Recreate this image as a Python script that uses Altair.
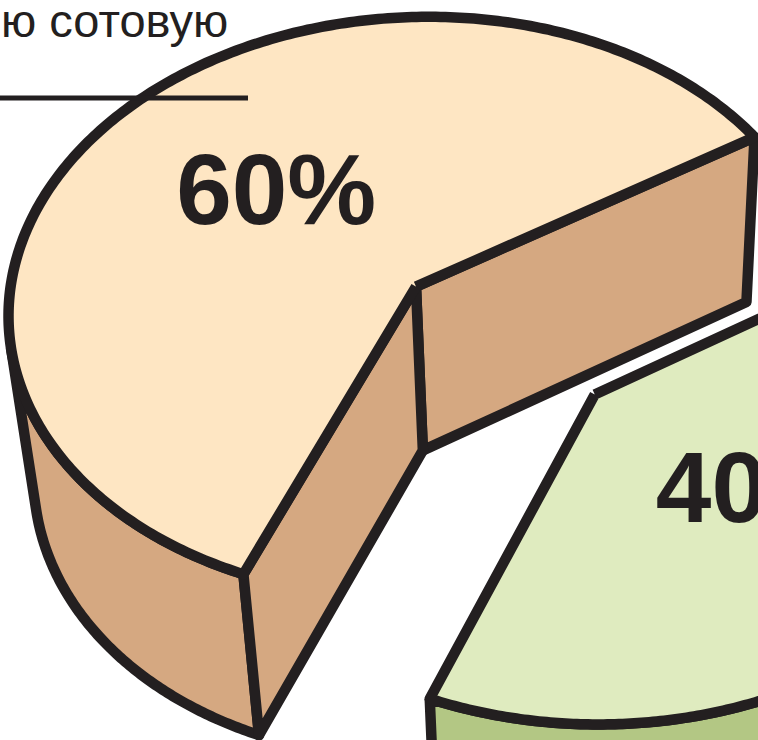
import numpy as np
import pandas as pd
import altair as alt

shares = [60, 40]
labels = ["60%", "40%"]
caption = "ю сотовую"
top_colors = ["#fee6c3", "#dfebbf"]
side_colors = ["#d5a881", "#b3c784"]
ink = "#231f20"
W, H = 758, 740

# camera / solid settings (elevation, distance, focal, origin x/y, roll, start angle, height, explode)
camera = [0.8303, 9.8049, 3815.98, 422.85, 450.38, 0.0418, 0.5056, 0.5962, 0.5682]

frac = shares[0] / sum(shares)


def project(p, P):
    phi, d, f, px, py, rho = p[:6]
    cam = d * np.array([0.0, -np.cos(phi), np.sin(phi)])
    fwd = -cam / np.linalg.norm(cam)
    right = np.array([1.0, 0.0, 0.0])
    up = np.cross(right, fwd)
    v = np.atleast_2d(np.asarray(P, float)) - cam
    zc = v @ fwd
    xc = v @ right
    yc = v @ up
    u1 = f * xc / zc
    u2 = f * yc / zc
    return px + u1 * np.cos(rho) - u2 * np.sin(rho), py - (u1 * np.sin(rho) + u2 * np.cos(rho))


def rim(c, th, z):
    return np.stack([c[0] + np.cos(th), c[1] + np.sin(th), np.full_like(th, z)], 1)


def build(p):
    phi, d, f, px, py, rho, alpha, h, s = p
    thF = alpha + 2 * np.pi * frac
    gam = alpha - np.pi * (1 - frac)
    e = np.array([s * np.cos(gam), s * np.sin(gam)])
    Q = np.array([0.0, -d * np.cos(phi)])
    faces = []

    def add(name, pts3):
        x, y = project(p, pts3)
        x = np.append(x, x[0])
        y = np.append(y, y[0])
        faces.append(pd.DataFrame({"face": name, "i": np.arange(len(x)), "x": x, "y": y}))

    def sil(c):
        w = Q - c
        b = np.arctan2(w[1], w[0])
        a = np.arccos(1 / np.hypot(*w))
        return b - a, b + a

    # larger slice
    left_sil, _ = sil(np.zeros(2))
    while left_sil < alpha:
        left_sil += 2 * np.pi
    th = np.linspace(left_sil, thF, 120)
    add("p_wall", np.vstack([rim([0, 0], th, h), rim([0, 0], th[::-1], 0.0)]))
    add("p_right", [[0, 0, h], [np.cos(alpha), np.sin(alpha), h], [np.cos(alpha), np.sin(alpha), 0], [0, 0, 0]])
    add("p_front", [[0, 0, h], [np.cos(thF), np.sin(thF), h], [np.cos(thF), np.sin(thF), 0], [0, 0, 0]])
    th = np.linspace(alpha, thF, 300)
    add("p_top", np.vstack([[[0, 0, h]], rim([0, 0], th, h)]))
    # exploded smaller slice
    gl, gr = sil(e)
    g0 = thF - 2 * np.pi
    th = np.linspace(max(g0, gl), min(alpha, gr), 120)
    add("g_wall", np.vstack([rim(e, th, h), rim(e, th[::-1], 0.0)]))
    th = np.linspace(g0, alpha, 300)
    add("g_top", np.vstack([[[e[0], e[1], h]], rim(e, th, h)]))
    lx, ly = project(p, [[0.55 * np.cos(alpha + np.pi * frac), 0.55 * np.sin(alpha + np.pi * frac), h],
                         [e[0] + 0.55 * np.cos(gam), e[1] + 0.55 * np.sin(gam), h]])
    return pd.concat(faces, ignore_index=True), lx, ly


shapes, lx, ly = build(camera)

xs = alt.X("x:Q", scale=alt.Scale(domain=[0, W], nice=False, zero=False), axis=None)
ys = alt.Y("y:Q", scale=alt.Scale(domain=[0, H], nice=False, zero=False, reverse=True), axis=None)

fills = {"p_wall": side_colors[0], "p_right": side_colors[0], "p_front": side_colors[0], "p_top": top_colors[0],
         "g_wall": side_colors[1], "g_top": top_colors[1]}
base = alt.Chart(shapes)
layers = []
for name in ["p_wall", "p_right", "p_front", "p_top", "g_wall", "g_top"]:
    layers.append(
        base.transform_filter(alt.datum.face == name)
        .mark_line(fill=fills[name], stroke=ink, strokeWidth=10.5, strokeJoin="round", clip=True)
        .encode(x=xs, y=ys, order=alt.Order("i:Q"))
    )

lab = pd.DataFrame({"label": labels, "x": lx, "y": ly})
label_shift = [(24, 6), (-22, -13)]
for k in range(len(labels)):
    layers.append(
        alt.Chart(lab.iloc[[k]]).mark_text(font="Liberation Sans", fontWeight="bold", fontSize=100, color=ink,
                                           align="center", baseline="middle", clip=True,
                                           dx=label_shift[k][0], dy=label_shift[k][1])
        .encode(x=xs, y=ys, text="label:N")
    )
layers.append(alt.Chart(pd.DataFrame({"t": [caption]})).mark_text(
    font="Liberation Sans", fontSize=47, color=ink, align="left", baseline="alphabetic")
    .encode(x=alt.value(1), y=alt.value(37), text="t:N"))
layers.append(alt.Chart(pd.DataFrame({"a": [0]})).mark_rule(stroke=ink, strokeWidth=5)
              .encode(x=alt.value(0), x2=alt.value(248), y=alt.value(98)))

chart = alt.layer(*layers).properties(width=W, height=H, autosize="none", padding=0,
                                      background="white").configure_view(strokeWidth=0)
chart.save("out.html", embed_options={"renderer": "svg", "actions": False})
